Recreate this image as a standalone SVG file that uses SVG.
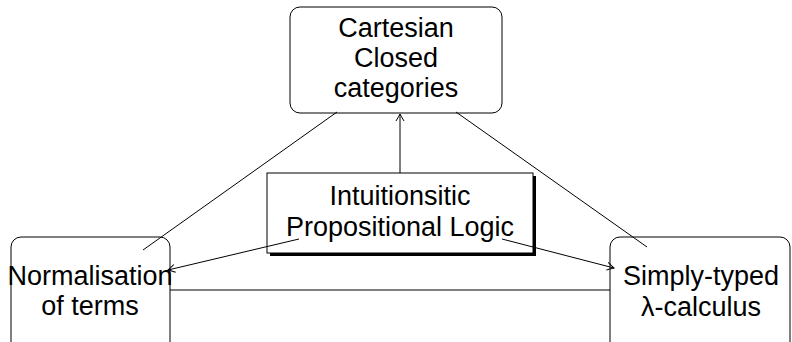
<svg xmlns="http://www.w3.org/2000/svg" width="792" height="342" viewBox="0 0 792 342">
<style>
.box{fill:#fff;stroke:#000;stroke-width:1}
.t{font-family:"Liberation Sans",Arial,sans-serif;font-size:27px;fill:#000;text-anchor:middle}
.c{fill:none;stroke:#000;stroke-width:1}
</style>
<defs>
<marker id="to" viewBox="-8 -5 10 10" markerWidth="10" markerHeight="10" refX="0" refY="0" orient="auto" markerUnits="userSpaceOnUse">
<path d="M-7,-4 Q-2,-1 0,0 Q-2,1 -7,4" fill="none" stroke="#000" stroke-width="1"/>
</marker>
</defs>
<g id="ccc">
<rect class="box" x="290" y="7" width="212" height="106" rx="10"/>
<text class="t" x="396" y="37">Cartesian</text>
<text class="t" x="396" y="67">Closed</text>
<text class="t" x="396" y="97">categories</text>
</g>
<g id="ipl">
<rect x="270" y="176" width="266" height="80" fill="#000"/>
<rect class="box" x="267" y="173" width="266" height="80"/>
<text class="t" x="400" y="205">Intuitionsitic</text>
<text class="t" x="400" y="236">Propositional Logic</text>
</g>
<g id="norm">
<rect class="box" x="11" y="237" width="159" height="120" rx="10"/>
<text class="t" x="90" y="285">Normalisation</text>
<text class="t" x="90" y="315">of terms</text>
</g>
<g id="stlc">
<rect class="box" x="610" y="237" width="180" height="120" rx="10"/>
<text class="t" x="701" y="285">Simply-typed</text>
<text class="t" x="701" y="316">λ-calculus</text>
</g>
<g id="connectors">
<line class="c" x1="400" y1="173" x2="400" y2="114" marker-end="url(#to)"/>
<line class="c" x1="143" y1="250" x2="337" y2="112"/>
<line class="c" x1="456" y1="112" x2="647" y2="247"/>
<line class="c" x1="299" y1="239" x2="168" y2="270" marker-end="url(#to)"/>
<line class="c" x1="502" y1="239" x2="614" y2="268" marker-end="url(#to)"/>
<line class="c" x1="170" y1="290" x2="610" y2="290"/>
</g>
</svg>
